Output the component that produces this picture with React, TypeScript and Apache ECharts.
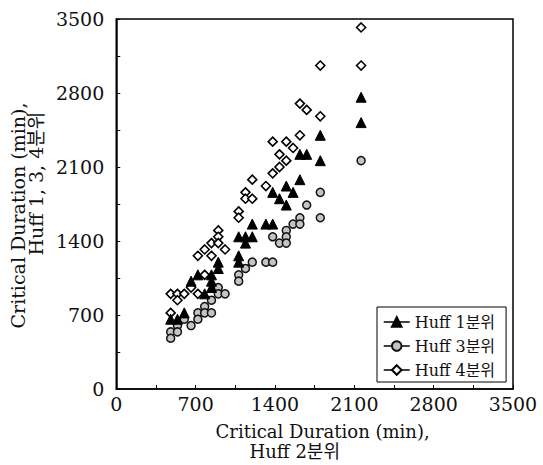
import React, { useEffect, useRef } from 'react';
import * as echarts from 'echarts';

const seriesNames = ['Huff 1분위', 'Huff 3분위', 'Huff 4분위'];

const huff1: number[][] = [
  [480, 660], [540, 660], [600, 720], [660, 1020], [720, 1080], [780, 900],
  [840, 1080], [840, 1020], [840, 960], [900, 1200], [900, 1140],
  [1080, 1440], [1080, 1260], [1080, 1200], [1140, 1440], [1140, 1380],
  [1200, 1560], [1200, 1440], [1320, 1560], [1380, 1560], [1380, 1860],
  [1440, 1800], [1500, 1920], [1500, 1740], [1560, 1860], [1620, 1980],
  [1620, 2220], [1680, 2220], [1800, 2400], [1800, 2160], [2160, 2760], [2160, 2520],
];

const huff3: number[][] = [
  [480, 540], [480, 480], [540, 600], [540, 540], [600, 660], [660, 600],
  [720, 720], [720, 660], [780, 780], [780, 720], [840, 840], [840, 720],
  [900, 960], [900, 900], [960, 900], [1080, 1080], [1080, 1020], [1140, 1140],
  [1200, 1200], [1320, 1200], [1380, 1200], [1380, 1440], [1440, 1380],
  [1500, 1500], [1500, 1440], [1500, 1380], [1560, 1560], [1620, 1620],
  [1620, 1560], [1680, 1740], [1800, 1860], [1800, 1620], [2160, 2160],
];

const huff4: number[][] = [
  [480, 900], [480, 720], [540, 900], [540, 840], [600, 900], [660, 960],
  [720, 1260], [720, 900], [780, 1320], [780, 1080], [840, 1380], [840, 1260],
  [900, 1500], [900, 1440], [900, 1380], [960, 1320], [1080, 1680], [1080, 1620],
  [1140, 1860], [1140, 1800], [1200, 1980], [1200, 1800], [1320, 1920],
  [1380, 2340], [1380, 2040], [1440, 2220], [1440, 2100], [1500, 2340],
  [1500, 2160], [1560, 2280], [1620, 2700], [1620, 2400], [1680, 2640],
  [1800, 3060], [1800, 2580], [2160, 3420], [2160, 3060],
];

const tickLabels = [0, 700, 1400, 2100, 2800, 3500];

export default function App() {
  const ref = useRef<HTMLDivElement>(null);
  useEffect(() => {
    const chart = echarts.init(ref.current!, null, { renderer: 'svg' });
    const font = "'DejaVu Serif', 'Noto Sans CJK KR', serif";
    const fmt = (v: number) => (tickLabels.includes(v) ? String(v) : '');
    const axisCommon = {
      type: 'value',
      min: 0,
      max: 3500,
      interval: 350,
      axisLine: { show: true, lineStyle: { color: '#000', width: 1.5 } },
      axisTick: { show: true, inside: true, length: 4, lineStyle: { color: '#000', width: 1 } },
      splitLine: { show: false },
      nameLocation: 'middle',
    };
    chart.setOption({
      animation: false,
      backgroundColor: '#fff',
      grid: {
        left: 111, right: 30, top: 19, bottom: 71,
        show: true, borderColor: '#000', borderWidth: 1.5, backgroundColor: 'transparent',
      },
      xAxis: {
        ...axisCommon,
        axisLabel: { formatter: fmt, fontSize: 19, fontFamily: font, color: '#111', margin: 5 },
        name: '{a|Critical Duration (min),}\n{b|Huff 2분위}',
        nameGap: 32,
        nameTextStyle: {
          rich: {
            a: { fontSize: 18, fontFamily: font, color: '#111', lineHeight: 20, align: 'left', padding: [0, 0, 0, 16] },
            b: { fontSize: 18, fontFamily: font, color: '#111', lineHeight: 20, align: 'left', padding: [0, 0, 0, 50] },
          },
        },
      },
      yAxis: {
        ...axisCommon,
        axisLabel: { formatter: fmt, fontSize: 19, fontFamily: font, color: '#111', margin: 12 },
        name: '{a|Critical Duration (min),}\n{b|Huff 1, 3, 4분위}',
        nameGap: 62,
        nameTextStyle: {
          rich: {
            a: { fontSize: 19, fontFamily: font, color: '#111', lineHeight: 18, align: 'left', padding: [0, 23, 0, 0] },
            b: { fontSize: 19, fontFamily: font, color: '#111', lineHeight: 18, align: 'left', padding: [0, 0, 0, 73] },
          },
        },
      },
      legend: {
        left: 377, top: 307, orient: 'vertical',
        itemWidth: 26, itemHeight: 12, itemGap: 8,
        padding: [7, 11, 4, 6],
        borderColor: '#000', borderWidth: 1, backgroundColor: '#fff',
        textStyle: { fontSize: 16, fontFamily: font, color: '#111' },
        lineStyle: { color: '#000', width: 1.5, opacity: 1, type: 'solid' },
        selectedMode: false,
        data: seriesNames,
      },
      series: [
        {
          type: 'line', name: seriesNames[0], data: huff1,
          symbol: 'triangle', symbolSize: 10, showSymbol: true,
          itemStyle: { color: '#000', borderColor: '#000', borderWidth: 1 },
          lineStyle: { width: 0, opacity: 0 }, z: 4,
        },
        {
          type: 'line', name: seriesNames[1], data: huff3,
          symbol: 'circle', symbolSize: 8, showSymbol: true,
          itemStyle: { color: '#c4c4c4', borderColor: '#111', borderWidth: 1.5 },
          lineStyle: { width: 0, opacity: 0 }, z: 3,
        },
        {
          type: 'line', name: seriesNames[2], data: huff4,
          symbol: 'diamond', symbolSize: 9, showSymbol: true,
          itemStyle: { color: '#fff', borderColor: '#000', borderWidth: 1.6 },
          lineStyle: { width: 0, opacity: 0 }, z: 2,
        },
      ],
    });
    return () => chart.dispose();
  }, []);
  return (
    <div
      ref={ref}
      style={{ position: 'fixed', left: 0, top: 0, width: 543, height: 465, background: '#fff' }}
    />
  );
}
